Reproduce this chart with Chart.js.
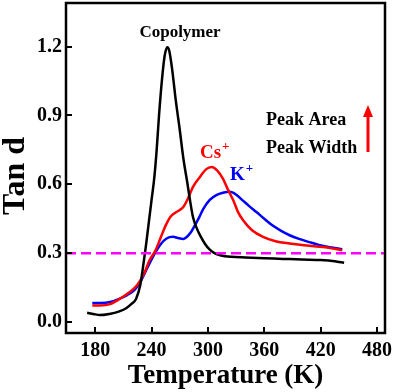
<!DOCTYPE html>
<html>
<head>
<meta charset="utf-8">
<script src="https://cdn.jsdelivr.net/npm/chart.js@4.4.0/dist/chart.umd.min.js"></script>
<style>
  html, body { margin: 0; padding: 0; background: #fff; }
  #wrap { width: 394px; height: 392px; }
</style>
</head>
<body>
<div id="wrap"><canvas id="tanChart" width="394" height="392"></canvas></div>
<script>
// Tan d vs temperature
const copolymerT   = [171.5, 178, 185, 195, 205, 213, 219, 223.5, 228, 231, 234, 237, 240, 243, 245.5, 248, 251, 254, 256.8, 259, 262, 266, 270, 274, 278, 281, 284, 288, 292, 297, 302, 308, 314, 325, 340, 360, 380, 400, 420, 435, 445];
const copolymerTan = [0.040, 0.035, 0.030, 0.035, 0.045, 0.060, 0.080, 0.100, 0.160, 0.240, 0.330, 0.430, 0.530, 0.630, 0.750, 0.900, 1.050, 1.160, 1.197, 1.180, 1.100, 0.960, 0.840, 0.710, 0.610, 0.530, 0.460, 0.410, 0.375, 0.340, 0.315, 0.298, 0.290, 0.284, 0.281, 0.278, 0.275, 0.272, 0.270, 0.265, 0.258];

const csT   = [177, 185, 196, 206, 215, 224.6, 232, 238, 244, 250, 255, 260, 265, 270, 274, 279, 284, 291.5, 298, 304, 310, 316, 321, 327, 332, 337.5, 347, 358.7, 372, 387, 405, 422.5, 443];
const csTan = [0.072, 0.072, 0.078, 0.100, 0.125, 0.160, 0.210, 0.270, 0.310, 0.370, 0.420, 0.458, 0.475, 0.488, 0.502, 0.540, 0.588, 0.632, 0.665, 0.675, 0.660, 0.625, 0.580, 0.530, 0.480, 0.443, 0.400, 0.371, 0.352, 0.342, 0.333, 0.327, 0.313];

const kT   = [177, 186, 196, 205, 214, 222, 228, 236, 243.7, 250, 256, 263, 268, 273.8, 281, 286, 291, 295, 302, 309, 316, 323.4, 330, 337, 344, 352, 360, 369, 378, 387, 397, 408, 418, 429.5, 443];
const kTan = [0.083, 0.083, 0.087, 0.100, 0.117, 0.140, 0.174, 0.240, 0.300, 0.340, 0.364, 0.371, 0.366, 0.362, 0.386, 0.420, 0.458, 0.492, 0.532, 0.553, 0.563, 0.567, 0.555, 0.530, 0.505, 0.478, 0.450, 0.420, 0.397, 0.378, 0.362, 0.348, 0.336, 0.326, 0.317];

const refLevel = 0.3;
const xTicks = [180, 240, 300, 360, 420, 480];
const yTicks = [0.0, 0.3, 0.6, 0.9, 1.2];
const xMin = 149, xMax = 488.5;
const yMin = -0.048, yMax = 1.39;

const colors = {
    copolymer: '#000000',
    cs: '#ff0000',
    k: '#0000ff',
    ref: '#ff00ff',
};

const serif = "'Liberation Serif', 'Times New Roman', serif";

function toPoints(xs, ys) {
    return xs.map((x, i) => ({ x: x, y: ys[i] }));
}

function curve(label, xs, ys, color) {
    return {
        label: label,
        data: toPoints(xs, ys),
        borderColor: color,
        borderWidth: 2.5,
        pointRadius: 0,
        cubicInterpolationMode: 'monotone',
        fill: false,
    };
}

// frame, inward ticks and the text notes
const framePlugin = {
    id: 'framePlugin',
    afterDatasetsDraw(chart) {
        const ctx = chart.ctx;
        const a = chart.chartArea;
        const xs = chart.scales.x, ys = chart.scales.y;
        ctx.save();
        ctx.strokeStyle = '#000';
        ctx.lineWidth = 2.5;
        ctx.strokeRect(a.left, a.top, a.right - a.left, a.bottom - a.top);

        ctx.lineWidth = 2;
        ctx.beginPath();
        xTicks.forEach(v => {
            const px = Math.round(xs.getPixelForValue(v));
            ctx.moveTo(px, a.bottom);
            ctx.lineTo(px, a.bottom - 6);
        });
        yTicks.forEach(v => {
            const py = Math.round(ys.getPixelForValue(v));
            ctx.moveTo(a.left, py);
            ctx.lineTo(a.left + 6, py);
        });
        ctx.stroke();

        ctx.textBaseline = 'alphabetic';
        ctx.fillStyle = colors.copolymer;
        ctx.font = 'bold 17px ' + serif;
        ctx.textAlign = 'center';
        ctx.fillText('Copolymer', 180, 37);

        ctx.textAlign = 'left';
        ctx.font = 'bold 18px ' + serif;
        ctx.fillText('Peak Area', 266, 125);
        ctx.fillText('Peak Width', 266, 153);

        // ion labels with superscript +
        const ion = (base, x, y, color) => {
            ctx.fillStyle = color;
            ctx.font = 'bold 19px ' + serif;
            ctx.fillText(base, x, y);
            const w = ctx.measureText(base).width;
            ctx.font = 'bold 13px ' + serif;
            ctx.fillText('+', x + w + 1, y - 8);
        };
        ion('Cs', 200, 158, colors.cs);
        ion('K', 230, 180, colors.k);

        // red arrow
        ctx.strokeStyle = colors.cs;
        ctx.fillStyle = colors.cs;
        ctx.lineWidth = 3;
        ctx.beginPath();
        ctx.moveTo(368, 152);
        ctx.lineTo(368, 114);
        ctx.stroke();
        ctx.beginPath();
        ctx.moveTo(363, 117);
        ctx.lineTo(373, 117);
        ctx.lineTo(368, 105);
        ctx.closePath();
        ctx.fill();
        ctx.restore();
    }
};

const ctx = document.getElementById('tanChart').getContext('2d');
new Chart(ctx, {
    type: 'line',
    data: {
        datasets: [
            {
                label: 'ref',
                data: [{ x: xMin, y: refLevel }, { x: xMax, y: refLevel }],
                borderColor: colors.ref,
                borderWidth: 2.5,
                borderDash: [10, 5],
                pointRadius: 0,
                fill: false,
            },
            curve('Copolymer', copolymerT, copolymerTan, colors.copolymer),
            curve('Cs+', csT, csTan, colors.cs),
            curve('K+', kT, kTan, colors.k),
        ]
    },
    options: {
        responsive: false,
        animation: false,
        devicePixelRatio: 1,
        layout: { padding: { top: 3, right: 9, left: 0, bottom: 0 } },
        plugins: {
            legend: { display: false },
            tooltip: { enabled: false },
        },
        scales: {
            x: {
                type: 'linear',
                min: xMin,
                max: xMax,
                afterBuildTicks: s => { s.ticks = xTicks.map(v => ({ value: v })); },
                afterFit: s => { s.height = 59; s.paddingLeft = 0; s.paddingRight = 0; },
                grid: { display: false, drawTicks: false },
                border: { display: false },
                ticks: {
                    color: '#000',
                    padding: 6,
                    maxRotation: 0,
                    font: { family: serif, size: 20, weight: 'bold' },
                },
                title: {
                    display: true,
                    text: 'Temperature (K)',
                    color: '#000',
                    padding: { top: 0, bottom: 0 },
                    font: { family: serif, size: 27, weight: 'bold' },
                },
            },
            y: {
                min: yMin,
                max: yMax,
                afterBuildTicks: s => { s.ticks = yTicks.map(v => ({ value: v })); },
                afterFit: s => { s.width = 66; s.paddingTop = 0; s.paddingBottom = 0; },
                grid: { display: false, drawTicks: false },
                border: { display: false },
                ticks: {
                    color: '#000',
                    padding: 4,
                    callback: v => v.toFixed(1),
                    font: { family: serif, size: 20, weight: 'bold' },
                },
                title: {
                    display: true,
                    text: 'Tan d  ',
                    color: '#000',
                    padding: { top: 0, bottom: 0 },
                    font: { family: serif, size: 32, weight: 'bold', lineHeight: 1 },
                },
            },
        },
    },
    plugins: [framePlugin],
});
</script>
</body>
</html>
